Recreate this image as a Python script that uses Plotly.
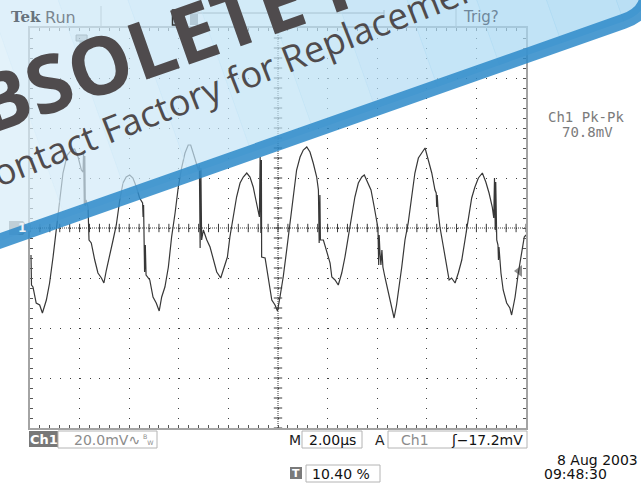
import numpy as np
import plotly.graph_objects as go

W, H = 641, 483

# ---------------- data read from the screen ----------------
# time in microseconds from the left edge of the graticule, Ch1 in millivolts
time_us = [0.04, 0.06, 0.12, 0.25, 0.39, 0.50, 0.66, 0.79, 0.93, 1.06, 1.20, 1.33, 1.50, 1.67, 1.80,
           1.94, 2.07, 2.14, 2.16, 2.19, 2.21, 2.23, 2.26, 2.34, 2.38, 2.47, 2.61, 2.74, 2.88, 2.98,
           3.08, 3.21, 3.35, 3.48, 3.62, 3.75, 3.88, 4.02, 4.15, 4.29, 4.42, 4.54, 4.56, 4.58, 4.60,
           4.62, 4.65, 4.68, 4.83, 4.96, 5.09, 5.21, 5.31, 5.44, 5.58, 5.71, 5.85, 5.98, 6.12, 6.25,
           6.38, 6.48, 6.58, 6.69, 6.79, 6.83, 6.86, 6.89, 6.92, 6.99, 7.13, 7.26, 7.39, 7.53, 7.69,
           7.82, 7.96, 8.06, 8.20, 8.33, 8.47, 8.60, 8.74, 8.87, 9.00, 9.14, 9.25, 9.28, 9.31, 9.33,
           9.34, 9.48, 9.61, 9.75, 9.88, 9.98, 10.08, 10.21, 10.35, 10.48, 10.62, 10.75, 10.89, 11.02,
           11.16, 11.29, 11.42, 11.56, 11.63, 11.66, 11.69, 11.71, 11.83, 11.96, 12.10, 12.17, 12.30,
           12.43, 12.57, 12.70, 12.83, 12.97, 13.10, 13.24, 13.38, 13.48, 13.62, 13.75, 13.88, 13.98,
           14.03, 14.06, 14.08, 14.11, 14.15, 14.19, 14.23, 14.31, 14.45, 14.58, 14.68, 14.78, 14.86,
           14.99, 15.12, 15.25, 15.39, 15.52, 15.66, 15.79, 15.93, 16.06, 16.20, 16.33, 16.38, 16.40,
           16.42, 16.46, 16.53, 16.67, 16.80, 16.90, 17.00, 17.14, 17.27, 17.41, 17.54, 17.67, 17.81,
           17.94, 18.08, 18.24, 18.38, 18.51, 18.64, 18.70, 18.73, 18.76, 18.78, 18.82, 18.87, 18.89,
           18.91, 18.99, 19.08, 19.22, 19.35, 19.42, 19.56, 19.69, 19.83, 19.93, 20.00]
ch1_mV = [-10.8, -22.8, -23.6, -30.0, -30.8, -34.0, -28.8, -22.0, -11.6, 0.0, 11.2, 22.0, 29.2, 31.2, 31.6,
          28.4, 23.2, 22.4, 30.8, 9.2, 28.8, 8.8, 11.2, 8.4, -4.8, -6.0, -12.8, -18.0, -20.0, -22.0,
          -16.8, -11.6, -4.8, 1.2, 11.2, 18.0, 20.4, 21.2, 20.0, 16.4, 12.0, 10.0, 4.4, 9.2, -1.6,
          -17.6, -6.8, -18.8, -20.8, -27.6, -30.0, -33.2, -27.6, -23.6, -15.6, -3.6, 6.0, 16.4, 24.4, 30.0,
          33.2, 33.2, 30.0, 26.0, 23.2, 25.2, -8.0, 24.0, -4.8, -0.8, -4.8, -7.6, -12.8, -17.6, -20.0,
          -15.6, -11.6, -3.6, 4.4, 12.4, 18.0, 20.4, 22.0, 20.4, 16.4, 10.0, 4.4, 28.4, -2.0, 27.2,
          -11.6, -12.0, -20.8, -28.8, -30.8, -33.2, -27.6, -19.6, -8.8, 2.0, 14.0, 23.2, 28.4, 31.2,
          32.4, 30.4, 26.0, 20.4, 15.2, -6.0, 13.2, -4.8, -4.8, -8.8, -14.0, -19.6, -20.8,
          -22.8, -18.0, -11.6, -3.6, 6.0, 12.4, 18.0, 20.4, 21.2, 18.4, 15.2, 8.4, 3.2,
          0.0, -14.8, -2.8, -9.6, -14.8, -8.8, -15.6, -19.6, -26.0, -31.6, -36.0, -30.8, -25.6,
          -15.6, -4.8, 2.0, 12.4, 22.0, 28.0, 30.0, 32.0, 27.2, 22.0, 15.2, 14.0, 8.4,
          13.2, 6.4, 0.4, -7.6, -15.6, -20.8, -20.0, -22.0, -18.0, -12.8, -4.8, 3.2, 12.0,
          16.4, 20.0, 22.0, 18.4, 14.0, 8.4, 4.0, 20.0, -0.8, 18.4, -4.8, -6.8, -12.8,
          -7.6, -18.0, -24.8, -30.0, -32.0, -34.8, -27.6, -18.0, -8.8, -3.6, -2.8]

# scope settings
volts_per_div = 20.0
time_per_div = 2.0
n_xdiv = 10
n_ydiv = 8
trigger_level_mV = -17.2
trigger_pos_pct = 10.40

# readout texts
ch_label = "Ch1"
ch_scale = "20.0mV"
timebase = "2.00µs"
trig_src = "Ch1"
meas_name = "Ch1 Pk-Pk"
meas_value = "70.8mV"
date_text = "8 Aug 2003"
time_text = "09:48:30"
trigpos_text = "10.40 %"
banner_big = "OBSOLETE PRODUCT"
banner_small = "Contact Factory for Replacement"

# ---------------- layout helpers ----------------
GL, GR, GT, GB = 30, 526, 28, 428   # graticule box in page pixels


def px(x):
    return x / W


def py(y):
    return 1 - y / H


def P(x, y):
    return f"{px(x):.5f},{py(y):.5f}"


x_range = [0, n_xdiv * time_per_div]
y_range = [-n_ydiv / 2 * volts_per_div, n_ydiv / 2 * volts_per_div]

fig = go.Figure()

# waveform
fig.add_trace(go.Scatter(x=time_us, y=ch1_mV, mode="lines",
                         line=dict(color="#373737", width=1.2), hoverinfo="skip"))

# centre cross-hair ticks
xc = np.arange(x_range[0], x_range[1] + 1e-9, time_per_div / 5)
yc = np.arange(y_range[0], y_range[1] + 1e-9, volts_per_div / 5)
fig.add_trace(go.Scatter(x=xc, y=np.zeros_like(xc), mode="markers", hoverinfo="skip",
                         marker=dict(symbol="line-ns", size=6, line=dict(width=1, color="#3a3a3a"))))
fig.add_trace(go.Scatter(x=np.full_like(yc, sum(x_range) / 2), y=yc, mode="markers", hoverinfo="skip",
                         marker=dict(symbol="line-ew", size=6, line=dict(width=1, color="#3a3a3a"))))

shapes = []
# centre dotted lines
shapes.append(dict(type="line", xref="x", yref="y", x0=x_range[0], x1=x_range[1], y0=0, y1=0,
                   line=dict(color="#3a3a3a", width=1, dash="1px,1px"), layer="below"))
shapes.append(dict(type="line", xref="x", yref="y", x0=sum(x_range) / 2, x1=sum(x_range) / 2,
                   y0=y_range[0], y1=y_range[1],
                   line=dict(color="#3a3a3a", width=1, dash="1px,1px"), layer="below"))

# channel 1 ground marker (left)
mv_per_px = volts_per_div / 50.0
shapes.append(dict(type="path", xref="paper", yref="y", layer="below",
                   path=f"M{px(9):.5f},{7*mv_per_px} L{px(23):.5f},{7*mv_per_px} L{px(29):.5f},0 "
                        f"L{px(23):.5f},{-7*mv_per_px} L{px(9):.5f},{-7*mv_per_px} Z",
                   fillcolor="#8a8a8a", line=dict(width=0)))
# trigger level marker (right)
tl = trigger_level_mV
shapes.append(dict(type="path", xref="paper", yref="y", layer="below",
                   path=f"M{px(514):.5f},{tl} L{px(522):.5f},{tl + 6*mv_per_px} "
                        f"L{px(522):.5f},{tl - 6*mv_per_px} Z",
                   fillcolor="#8e8e8e", line=dict(width=0)))
# trigger position marker (top)
tx = trigger_pos_pct / 100 * x_range[1]
dx = 5.5 * time_per_div / 49.6
shapes.append(dict(type="rect", xref="x", yref="paper", x0=tx - dx, x1=tx + dx, y0=py(41), y1=py(35),
                   line=dict(color="#6a6a6a", width=1), fillcolor="#bdbdbd", layer="below"))
shapes.append(dict(type="line", xref="x", yref="paper", x0=tx, x1=tx, y0=py(48), y1=py(41),
                   line=dict(color="#7a7a7a", width=4), layer="below"))

# top status bar
shapes += [
    dict(type="line", xref="paper", yref="paper", x0=px(101), x1=px(101), y0=py(27), y1=py(6),
         line=dict(color="#a8a8a8", width=1), layer="below"),
    dict(type="line", xref="paper", yref="paper", x0=px(456), x1=px(456), y0=py(27), y1=py(6),
         line=dict(color="#a8a8a8", width=1), layer="below"),
    dict(type="line", xref="paper", yref="paper", x0=px(172), x1=px(384), y0=py(13), y1=py(13),
         line=dict(color="#7d7d7d", width=1), layer="below"),
    dict(type="line", xref="paper", yref="paper", x0=px(384), x1=px(384), y0=py(18), y1=py(10),
         line=dict(color="#7d7d7d", width=1), layer="below"),
    dict(type="rect", xref="paper", yref="paper", x0=px(190), x1=px(198), y0=py(25), y1=py(14),
         line=dict(width=0), fillcolor="#8c8c8c", layer="below"),
]

# ---------------- watermark banner ----------------
theta = np.deg2rad(19.4)
ct, st = np.cos(theta), np.sin(theta)
BX0, BY0 = 0.0, 241.0
U, R = 695.0, 34.0


def bpt(u, h):
    return (BX0 + u * ct - h * st, BY0 - u * st - h * ct)


alpha = 0.7
left_rgb = np.array([236, 246, 252])
right_rgb = np.array([186, 224, 245])


def fill_for(u):
    f = np.clip((u + 100) / 780.0, 0, 1)
    target = left_rgb + (right_rgb - left_rgb) * f
    c = np.clip((target - (1 - alpha) * 255) / alpha, 0, 255)
    return f"rgba({int(c[0])},{int(c[1])},{int(c[2])},{alpha})"


edges = np.linspace(-260, U - R, 15)
HT = 800
for a, b in zip(edges[:-1], edges[1:]):
    pts = [bpt(a, 0), bpt(b + 0.6, 0), bpt(b + 0.6, HT), bpt(a, HT)]
    shapes.append(dict(type="path", xref="paper", yref="paper", layer="above",
                       path="M" + " L".join(P(*q) for q in pts) + " Z",
                       fillcolor=fill_for((a + b) / 2), line=dict(width=0)))
corner = ("M" + P(*bpt(U - R, 0)) + " Q" + P(*bpt(U, 0)) + " " + P(*bpt(U, R)) +
          " L" + P(*bpt(U, HT)) + " L" + P(*bpt(U - R, HT)) + " Z")
shapes.append(dict(type="path", xref="paper", yref="paper", layer="above", path=corner,
                   fillcolor=fill_for(U), line=dict(width=0)))
band = ("M" + P(*bpt(-260, 0)) + " L" + P(*bpt(U - R, 0)) + " Q" + P(*bpt(U, 0)) + " " +
        P(*bpt(U, R)) + " L" + P(*bpt(U, 300)))
shapes.append(dict(type="path", xref="paper", yref="paper", layer="above", path=band,
                   fillcolor="rgba(0,0,0,0)", line=dict(color="rgba(47,139,202,0.86)", width=15)))
# record bracket (drawn dark)
shapes.append(dict(type="path", xref="paper", yref="paper", layer="above",
                   path=f"M{P(176, 10)} L{P(172.5, 10)} L{P(172.5, 25)} L{P(176, 25)}",
                   fillcolor="rgba(0,0,0,0)", line=dict(color="#333333", width=1.5)))

# bottom readout boxes
shapes += [
    dict(type="rect", xref="paper", yref="paper", x0=px(29), x1=px(58), y0=py(447), y1=py(431),
         fillcolor="#787878", line=dict(width=0)),
    dict(type="rect", xref="paper", yref="paper", x0=px(58), x1=px(157), y0=py(448), y1=py(431),
         fillcolor="rgba(0,0,0,0)", line=dict(color="#b4b4b4", width=1)),
    dict(type="rect", xref="paper", yref="paper", x0=px(302), x1=px(362), y0=py(448), y1=py(431),
         fillcolor="rgba(0,0,0,0)", line=dict(color="#b4b4b4", width=1)),
    dict(type="rect", xref="paper", yref="paper", x0=px(388), x1=px(527), y0=py(448), y1=py(431),
         fillcolor="rgba(0,0,0,0)", line=dict(color="#b4b4b4", width=1)),
    dict(type="rect", xref="paper", yref="paper", x0=px(290), x1=px(302), y0=py(479), y1=py(467),
         fillcolor="#7a7a7a", line=dict(width=0)),
    dict(type="rect", xref="paper", yref="paper", x0=px(306), x1=px(380), y0=py(482), y1=py(465),
         fillcolor="rgba(0,0,0,0)", line=dict(color="#b4b4b4", width=1)),
]

SANS = "DejaVu Sans"
MONO = "DejaVu Sans Mono"


def ann(text, x, y, size=14, color="#222222", family=SANS, xanchor="center", weight="normal", **kw):
    d = dict(text=text, x=px(x), y=py(y), xref="paper", yref="paper", showarrow=False,
             xanchor=xanchor, yanchor="middle",
             font=dict(size=size, color=color, family=family, weight=weight))
    d.update(kw)
    return d


annotations = [
    # top bar (under watermark: pre-tinted)
    ann("Tek", 9, 17, 15, "#67727c", "DejaVu Serif", "left", weight="bold"),
    ann("Run", 43, 17, 16, "#7a8691", SANS, "left"),
    ann("Trig?", 461, 17, 15, "#6f879b", SANS, "left"),
    # right measurement readout
    ann(meas_name, 586, 116.5, 14, "#7b7b7b", MONO),
    ann(meas_value, 587, 132, 14, "#7b7b7b", MONO),
    # bottom readouts
    ann(ch_label, 43.5, 439.5, 13, "#ffffff", SANS, weight="bold"),
    ann(ch_scale + "∿", 72, 439.5, 14, "#8c8c8c", SANS, "left"),
    ann("<sup>B</sup><sub>W</sub>", 141, 439.5, 9, "#8c8c8c", SANS, "left"),
    ann("M", 295, 439.5, 14, "#222222"),
    ann(timebase, 332, 439.5, 14, "#111111"),
    ann("A", 380, 439.5, 14, "#222222"),
    ann(trig_src, 415, 439.5, 14, "#8c8c8c"),
    ann("ʃ" + f"{trigger_level_mV:.1f}".replace("-", "−") + "mV", 525, 439.5, 14, "#111111", SANS, "right"),
    ann(date_text, 640, 459.5, 14, "#111111", SANS, "right"),
    ann(time_text, 542, 473.5, 14, "#111111", SANS, "left"),
    ann("T", 296, 473, 11, "#ffffff", SANS, weight="bold"),
    ann(trigpos_text, 310, 473.5, 14, "#111111", SANS, "left"),
]
# channel marker label
annotations.append(dict(text="1", x=px(16), y=0, xref="paper", yref="y", showarrow=False,
                        font=dict(size=12, color="#eef3f7", family=SANS, weight="bold")))
# watermark texts
annotations.append(dict(text=banner_big, x=px(299), y=py(-7), xref="paper", yref="paper",
                        showarrow=False, xanchor="center", yanchor="middle", textangle=-19.4,
                        font=dict(size=80, color="#4f4b4d", family="Open Sans", weight="bold")))
annotations.append(dict(text=banner_small, x=px(230.5), y=py(80.8), xref="paper", yref="paper",
                        showarrow=False, xanchor="center", yanchor="middle", textangle=-21.5,
                        font=dict(size=36.5, color="#4f4b4d", family="Open Sans")))

axis_common = dict(showticklabels=False, zeroline=False, showline=True, linecolor="#a4a4a4",
                   linewidth=2, mirror="ticks", ticks="inside", ticklen=3, tickcolor="#555555",
                   gridcolor="#3c3c3c", gridwidth=1, fixedrange=True)

fig.update_layout(
    width=W, height=H, margin=dict(l=0, r=0, t=0, b=0),
    paper_bgcolor="white", plot_bgcolor="white", showlegend=False,
    xaxis=dict(domain=[px(GL), px(GR)], range=x_range, dtick=time_per_div, tick0=0,
               griddash="1px,9px",
               minor=dict(dtick=time_per_div / 5, tick0=0, ticks="inside", ticklen=3,
                          tickcolor="#555555", showgrid=False), **axis_common),
    yaxis=dict(domain=[py(GB), py(GT)], range=y_range, dtick=volts_per_div, tick0=0,
               griddash="1px,8.92px",
               minor=dict(dtick=volts_per_div / 5, tick0=0, ticks="inside", ticklen=3,
                          tickcolor="#555555", showgrid=False), **axis_common),
    shapes=shapes, annotations=annotations,
)

fig.write_html("out.html", config={"displayModeBar": False})
